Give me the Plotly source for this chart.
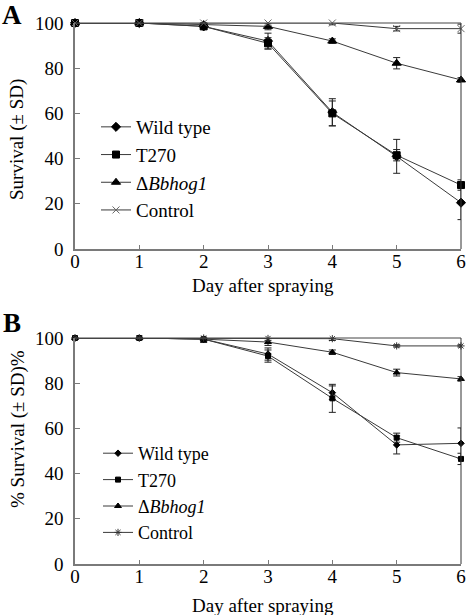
import plotly.graph_objects as go

days = [0, 1, 2, 3, 4, 5, 6]
tick_days = [0, 1, 2, 3, 4, 5, 6]
tick_surv = [0, 20, 40, 60, 80, 100]

# Panel A
A_wt = [100, 100, 98.5, 92.0, 60.5, 41.0, 20.5]
A_wt_sd = [0, 0, 0.8, 3.5, 6.0, 7.5, 7.5]
A_t270 = [100, 100, 98.5, 91.0, 60.0, 41.5, 28.3]
A_t270_sd = [0, 0, 0.8, 2.5, 5.5, 2.5, 2.3]
A_hog = [100, 100, 99.3, 98.5, 92.0, 82.2, 74.8]
A_hog_sd = [0, 0, 0.5, 1.5, 1.0, 2.5, 1.0]
A_ctrl = [100, 100, 100, 100, 100, 97.5, 97.5]
A_ctrl_sd = [0, 0, 0, 1.0, 0.8, 1.0, 2.0]

# Panel B
B_wt = [100, 100, 99.5, 92.9, 75.8, 52.7, 53.4]
B_wt_sd = [0, 0, 1.5, 2.7, 3.0, 4.0, 6.8]
B_t270 = [100, 100, 99.5, 92.0, 73.3, 55.9, 46.5]
B_t270_sd = [0, 0, 1.0, 2.7, 6.2, 2.0, 2.5]
B_hog = [100, 100, 99.5, 98.2, 93.7, 84.7, 81.9]
B_hog_sd = [0, 0, 0.5, 1.5, 1.0, 1.5, 1.0]
B_ctrl = [100, 100, 100, 99.8, 99.7, 96.5, 96.5]
B_ctrl_sd = [0, 0, 0, 1.0, 0.8, 0.5, 0.5]

names = ["Wild type", "T270", "Δ<i>Bbhog1</i>", "Control"]

FONT = "Liberation Serif"
LINE = "#3a3a3a"
AXC = "#7a7a7a"
W, H = 466, 615


def px(x):
    return x / W


def py(y):
    return 1 - y / H


fig = go.Figure()


def add(x, y, sd, name, sym, size, mcol, xa, ya, leg, grp):
    fig.add_trace(go.Scatter(
        x=x, y=y, name=name, mode="lines+markers",
        line=dict(color=LINE, width=1),
        marker=dict(symbol=sym, size=size, color=mcol,
                    line=dict(color=mcol, width=1)),
        error_y=dict(type="data", array=sd, visible=True, color="#222",
                     thickness=1, width=3.5),
        xaxis=xa, yaxis=ya, legend=leg, legendgroup=grp, cliponaxis=False,
    ))


A_series = [(A_wt, A_wt_sd, "diamond", 7, "#000"),
            (A_t270, A_t270_sd, "square", 7, "#000"),
            (A_hog, A_hog_sd, "triangle-up", 8, "#000"),
            (A_ctrl, A_ctrl_sd, "x-thin-open", 7, "#666")]
B_series = [(B_wt, B_wt_sd, "diamond", 5, "#000"),
            (B_t270, B_t270_sd, "square", 5, "#000"),
            (B_hog, B_hog_sd, "triangle-up", 6, "#000"),
            (B_ctrl, B_ctrl_sd, "asterisk-open", 6, "#333")]

for i, (y, sd, sym, sz, mc) in enumerate(A_series):
    add(days, y, sd, names[i], sym, sz, mc, "x", "y", "legend", "a%d" % i)
for i, (y, sd, sym, sz, mc) in enumerate(B_series):
    add(days, y, sd, names[i], sym, sz, mc, "x2", "y2", "legend2", "b%d" % i)

xd = [px(75), px(461)]
yA = [py(249), py(23)]
yB = [py(564), py(338)]


def xaxis(anchor, domain):
    return dict(domain=domain, anchor=anchor, range=[0, 6], tickvals=tick_days,
                showgrid=False, zeroline=False, showline=True, linecolor=AXC,
                linewidth=1.5, ticks="inside", ticklen=4, tickcolor=AXC,
                tickwidth=1, tickfont=dict(family=FONT, size=19, color="#000"),
                ticklabelstandoff=-6, automargin=False)


def yaxis(anchor, domain):
    return dict(domain=domain, anchor=anchor, range=[0, 100], tickvals=tick_surv,
                showgrid=False, zeroline=False, showline=True, linecolor=AXC,
                linewidth=1.5, ticks="inside", ticklen=5, tickcolor=AXC,
                tickwidth=1, tickfont=dict(family=FONT, size=19, color="#000"),
                ticklabelstandoff=6, automargin=False)


def legend(x, y, size, gap):
    return dict(x=x, y=y, xanchor="left", yanchor="top",
                bgcolor="rgba(0,0,0,0)",
                font=dict(family=FONT, size=size, color="#000"),
                tracegroupgap=gap, itemwidth=30)


fig.update_layout(
    width=W, height=H, margin=dict(l=0, r=0, t=0, b=0, autoexpand=False),
    font=dict(family=FONT, size=19, color="#000"),
    paper_bgcolor="white", plot_bgcolor="white",
    xaxis=xaxis("y", xd), yaxis=yaxis("x", yA),
    xaxis2=xaxis("y2", xd), yaxis2=yaxis("x2", yB),
    legend=legend(px(96), py(108), 19, 0),
    legend2=legend(px(98), py(435), 18, 0),
    showlegend=True,
)

# top and right plot-area border
for xr, yr in (("x domain", "y domain"), ("x2 domain", "y2 domain")):
    fig.add_shape(type="line", xref=xr, yref=yr, x0=0, x1=1, y0=1, y1=1,
                  line=dict(color="#444", width=1))
    fig.add_shape(type="line", xref=xr, yref=yr, x0=1, x1=1, y0=0, y1=1,
                  line=dict(color="#333", width=1))

ann = [
    dict(text="<b>A</b>", x=px(12), y=py(15), font=dict(size=27)),
    dict(text="<b>B</b>", x=px(12), y=py(323), font=dict(size=27)),
    dict(text="Day after spraying", x=px(263), y=py(285), font=dict(size=19)),
    dict(text="Day after spraying", x=px(263), y=py(605), font=dict(size=19)),
    dict(text="Survival (± SD)", x=px(17), y=py(140), font=dict(size=19), textangle=-90),
    dict(text="% Survival (± SD)%", x=px(18), y=py(429), font=dict(size=19), textangle=-90),
]
for a in ann:
    a["font"].update(family=FONT, color="#000")
    fig.add_annotation(xref="paper", yref="paper", showarrow=False,
                       xanchor="center", yanchor="middle", **a)

fig.write_html(
    "out.html",
    config={"displayModeBar": False},
    post_script="document.body.style.margin='0';document.body.style.overflow='hidden';",
)
